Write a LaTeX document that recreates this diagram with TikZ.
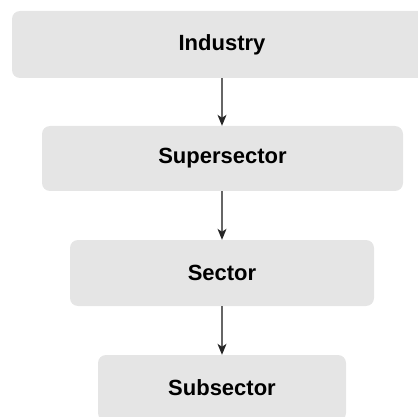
\documentclass[tikz,border=0pt]{standalone}
\usepackage{fontspec}
\setmainfont{Liberation Sans}
\usetikzlibrary{arrows.meta}
\definecolor{boxfill}{HTML}{E5E5E5}
\definecolor{linegray}{HTML}{666666}
\definecolor{tipdark}{HTML}{262626}
\tikzset{
  stagebox/.style={fill=boxfill, draw=none, rounded corners=8pt, inner sep=0pt,
    font=\fontsize{22}{26}\selectfont\bfseries, text=black},
  flowarrow/.style={draw=linegray, line width=1.2pt,
    -{Stealth[length=11pt, width=9pt, inset=3pt, color=tipdark]}}
}
\begin{document}
\begin{tikzpicture}[x=1pt, y=-1pt]
\useasboundingbox (0,0) rectangle (418,417);
\clip (0,0) rectangle (418,417);
\node[stagebox, minimum width=420pt, minimum height=67pt] (ind) at (222,44.5) {Industry};
\node[stagebox, minimum width=361pt, minimum height=65pt] (sup) at (222.5,158.5) {Supersector};
\node[stagebox, minimum width=304pt, minimum height=66pt] (sec) at (222,273) {Sector};
\node[stagebox, minimum width=248pt, minimum height=66pt] (sub) at (222,388) {Subsector};
\draw[flowarrow] (ind.south) -- (sup.north -| ind.south);
\draw[flowarrow] (sup.south -| ind.south) -- (sec.north);
\draw[flowarrow] (sec.south) -- (sub.north);
\end{tikzpicture}
\end{document}
